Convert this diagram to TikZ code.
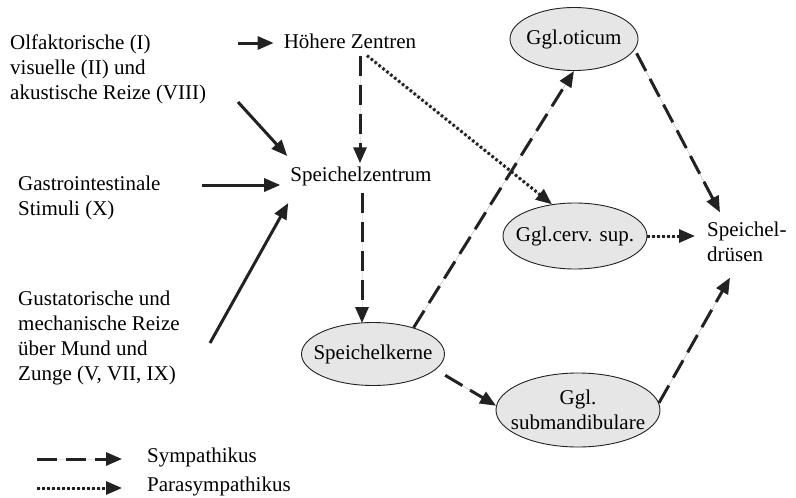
\documentclass[tikz,border=0pt]{standalone}
\usepackage{fontspec}
\setmainfont{Liberation Serif}
\usetikzlibrary{arrows.meta,shapes.geometric,calc}
\definecolor{inkc}{HTML}{222222}
\definecolor{gangfill}{HTML}{E6E6E6}
\tikzset{
  arr/.style={-{Triangle[length=16pt,width=13pt]}, line width=3pt, draw=inkc, fill=inkc},
  sym/.style={arr, dash pattern=on 20pt off 9pt},
  para/.style={arr, line width=3pt, dash pattern=on 2.5pt off 2.5pt},
  gang/.style n args={2}{ellipse, draw=inkc, fill=gangfill, line width=0.9pt, inner sep=0pt,
     minimum width=#1, minimum height=#2},
  lbl/.style={align=center, inner sep=0pt},
  txt/.style={align=left, inner sep=3pt, anchor=west},
  ctxt/.style={align=center, inner sep=3pt}
}
\begin{document}
\begin{tikzpicture}[x=1pt,y=-1pt, font=\fontsize{21}{25}\selectfont]
\useasboundingbox (0,0) rectangle (796,498);
\fill[white] (0,0) rectangle (796,498);

% text nodes
\node[txt] (b1) at (7,69) {Olfaktorische (I)\\visuelle (II) und\\akustische Reize (VIII)};
\node[txt] (b2) at (15,197.5) {Gastrointestinale\\Stimuli (X)};
\node[txt] (b3) at (15,337.5) {Gustatorische und\\mechanische Reize\\über Mund und\\Zunge (V, VII, IX)};
\node[ctxt] (hz) at (350,41) {Höhere Zentren};
\node[ctxt] (sz) at (361,176) {Speichelzentrum};
\node[txt] (sd) at (704,241.5) {Speichel-\\drüsen};

% ganglia
\node[gang={143}{63}, label={[lbl]center:Speichelkerne}] (sk) at (373,354) {};
\node[gang={128}{63}, label={[lbl]center:Ggl.oticum}] (ot) at (574,39) {};
\node[gang={144}{66}, label={[lbl]center:Ggl.cerv. sup.}] (cs) at (575,236) {};
\node[gang={164}{74}, label={[lbl]center:Ggl.\\submandibulare}] (sm) at (578,410) {};

% free ends
\coordinate (s0) at (238,43);
\coordinate (s1) at (238,102);
\coordinate (s2) at (202,185);
\coordinate (s3) at (210,343);

% solid inputs
\draw[arr] (s0) -- ($(hz.west)+(-7,2)$);
\draw[arr] (s1) -- ($(sz.west)+(0,-20)$);
\draw[arr] (s2) -- ($(sz.west)+(-7,9)$);
\draw[arr] (s3) -- ($(sz.west)+(1,27)$);

% sympathetic (dashed)
\draw[sym] ($(hz.south)+(10,4)$) -- ($(sz.north)+(-1,0)$);
\draw[sym] ($(sz.south)+(1,4)$) -- ($(sk.north)+(-11,1)$);
\draw[sym] (sk.33) -- (ot.south);
\draw[sym, shorten <=4pt] (ot.-10) -- ($(sd.north west)+(16,-6)$);
\draw[sym, shorten <=11pt] (sk.-14) -- (sm.177);
\draw[sym] (sm.5) -- ($(sd.south west)+(26,13)$);

% parasympathetic (dotted)
\draw[para] ($(hz.south)+(17,4)$) -- (cs.126);
\draw[para, shorten >=9pt] (cs.east) -- (cs.east -| sd.west);

% legend
\coordinate (la) at (37,459);
\coordinate (lb) at (122,459);
\coordinate (lc) at (37,488);
\coordinate (ld) at (122,488);
\draw[sym] (la) -- (lb);
\draw[para] (lc) -- (ld);
\node[txt] (ls) at (144,457) {Sympathikus};
\node[txt] (lp) at (144,486) {Parasympathikus};
\end{tikzpicture}
\end{document}
